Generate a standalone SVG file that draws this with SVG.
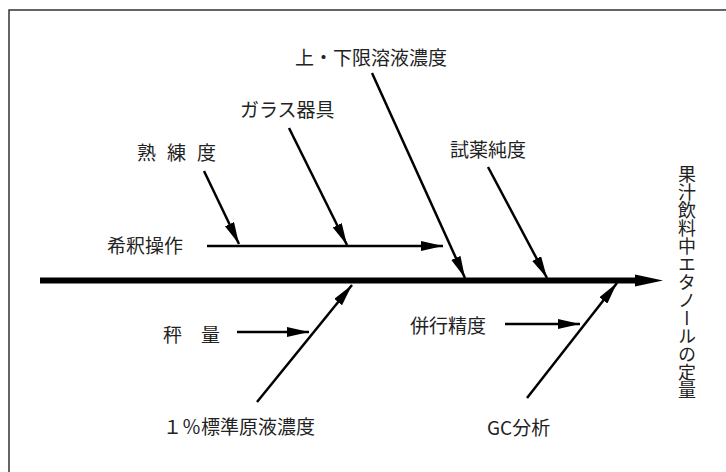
<svg xmlns="http://www.w3.org/2000/svg" width="726" height="472" viewBox="0 0 726 472">
<style>
text{font-family:"Noto Sans CJK JP","Noto Sans",sans-serif;font-size:19px;fill:#222}
.vt{font-size:18px;writing-mode:vertical-rl}
.br{stroke:#000;stroke-width:2.5;fill:none;marker-end:url(#ah)}
.spine{stroke:#000;stroke-width:6;fill:none}
</style>
<defs>
<marker id="ah" markerUnits="userSpaceOnUse" markerWidth="24" markerHeight="12" refX="22" refY="5" orient="auto" viewBox="0 0 24 12">
<path d="M0,0 L22,5 L0,10 z" fill="#000"/>
</marker>
</defs>
<rect x="9" y="10" width="800" height="500" fill="#fff" stroke="#333" stroke-width="1.5"/>
<g id="connectors">
<line class="spine" x1="40" y1="280.5" x2="637" y2="280.5"/>
<polygon points="635,274.5 663,280.5 635,286.5" fill="#000"/>
<line class="br" x1="204" y1="171" x2="239" y2="244"/>
<line class="br" x1="289" y1="128" x2="347" y2="245"/>
<line class="br" x1="207" y1="246" x2="443" y2="246"/>
<line class="br" x1="372" y1="73" x2="465" y2="278"/>
<line class="br" x1="488" y1="167" x2="547" y2="278"/>
<line class="br" x1="237" y1="332" x2="309" y2="332"/>
<line class="br" x1="257" y1="402" x2="352" y2="285"/>
<line class="br" x1="505" y1="324" x2="580" y2="324"/>
<line class="br" x1="527" y1="398" x2="617" y2="283"/>
</g>
<g id="n-result"><text class="vt" x="687" y="165">果汁飲料中エタノールの定量</text></g>
<g id="n-jogen"><text x="295" y="65">上・下限溶液濃度</text></g>
<g id="n-glass"><text x="240" y="117">ガラス器具</text></g>
<g id="n-jukuren"><text x="137 156 167 186 197" y="160">熟 練 度</text></g>
<g id="n-shiyaku"><text x="450" y="157">試薬純度</text></g>
<g id="n-kishaku"><text x="107" y="253">希釈操作</text></g>
<g id="n-hyoryo"><text x="163" y="342">秤　量</text></g>
<g id="n-std"><text x="163" y="434">１％標準原液濃度</text></g>
<g id="n-heiko"><text x="410" y="333">併行精度</text></g>
<g id="n-gc"><text x="487" y="435">GC分析</text></g>
</svg>
